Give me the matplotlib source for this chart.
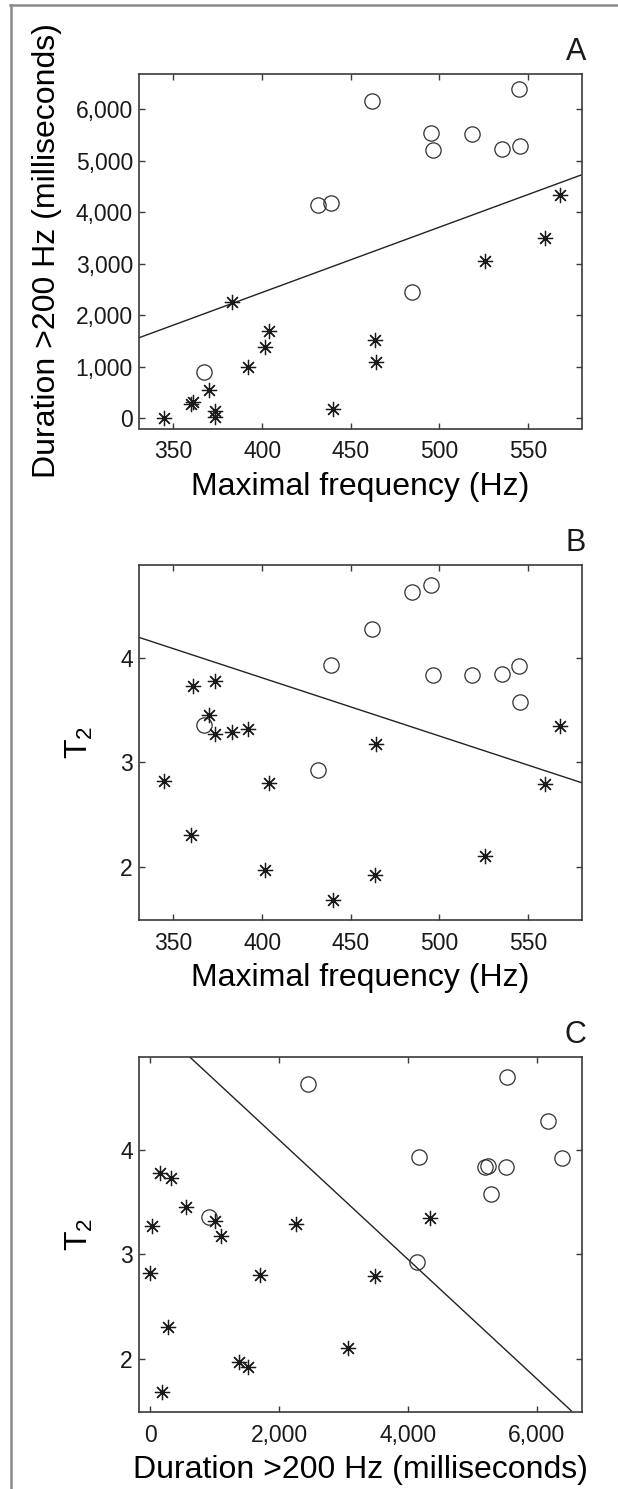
import matplotlib
matplotlib.use("Agg")
import matplotlib.pyplot as plt
from matplotlib.lines import Line2D
from matplotlib.ticker import FuncFormatter

plt.rcParams['font.family'] = ['Liberation Sans', 'DejaVu Sans']
plt.rcParams['mathtext.fontset'] = 'custom'
plt.rcParams['mathtext.rm'] = 'Liberation Sans'
plt.rcParams['mathtext.it'] = 'Liberation Sans'

# ---- data ----
# group drawn with asterisks
star_freq = [361.1, 373.5, 370.0, 373.3, 383.3, 392.1, 344.7, 359.9, 404.1, 401.9,
             464.0, 463.5, 440.0, 525.6, 559.8, 568.2]
star_dur = [320, 145, 548, 30, 2265, 995, 0, 275, 1700, 1380,
            1100, 1522, 178, 3060, 3492, 4337]
star_t2 = [3.734, 3.775, 3.452, 3.273, 3.29, 3.32, 2.826, 2.305, 2.80, 1.967,
           3.175, 1.923, 1.686, 2.105, 2.79, 3.35]

# group drawn with open circles
circ_freq = [484.4, 495.5, 461.8, 439.1, 496.3, 518.5, 535.4, 544.7, 545.6, 367.3, 431.6]
circ_dur = [2449, 5540, 6169, 4173, 5200, 5527, 5234, 6396, 5288, 907, 4136]
circ_t2 = [4.63, 4.697, 4.278, 3.93, 3.838, 3.838, 3.845, 3.922, 3.574, 3.355, 2.928]

# separating lines (end points)
lineA_x = [330, 580]
lineA_y = [1555, 4725]
lineB_x = [330, 580]
lineB_y = [4.20, 2.806]
lineC_x = [611, 6536]
lineC_y = [4.89, 1.50]

freq_ticks = [350, 400, 450, 500, 550]
dur_ticks = [0, 1000, 2000, 3000, 4000, 5000, 6000]
dur_ticks_c = [0, 2000, 4000, 6000]
t2_ticks = [2, 3, 4]
panel_labels = ['A', 'B', 'C']

W, H = 618, 1489
fig = plt.figure(figsize=(W / 100, H / 100), dpi=100)

ax_left, ax_right = 138.5, 582.0
ax_h = 355.0
tops = [73.5, 565.0, 1057.0]

LABEL_FS = 23
TICK_FS = 16.5
INK = '#1a1a1a'
SPINE = '#3a3a3a'

comma = FuncFormatter(lambda v, p: f"{int(round(v)):,}")

axes = []
for top in tops:
    ax = fig.add_axes([ax_left / W, 1 - (top + ax_h) / H, (ax_right - ax_left) / W, ax_h / H])
    for s in ax.spines.values():
        s.set_color(SPINE)
        s.set_linewidth(1.2)
    ax.tick_params(direction='in', length=4, width=1.0, color=SPINE,
                   top=True, right=True, labelsize=TICK_FS, labelcolor=INK)
    ax.tick_params(axis='x', pad=8.5)
    ax.tick_params(axis='y', pad=4)
    axes.append(ax)

def draw_points(ax, xs_star, ys_star, xs_circ, ys_circ):
    ax.plot(xs_circ, ys_circ, linestyle='none', marker='o', markersize=11,
            markerfacecolor='none', markeredgecolor='#303030', markeredgewidth=0.9)
    ax.plot(xs_star, ys_star, linestyle='none', marker=(8, 2, 0), markersize=11,
            markeredgecolor='#1a1a1a', markeredgewidth=0.9)

# Panel A
ax = axes[0]
ax.plot(lineA_x, lineA_y, color='#222222', lw=1.0)
draw_points(ax, star_freq, star_dur, circ_freq, circ_dur)
ax.set_xlim(330.3, 580.4)
ax.set_ylim(-200, 6695)
ax.set_xticks(freq_ticks)
ax.set_yticks(dur_ticks)
ax.yaxis.set_major_formatter(comma)
ax.set_xlabel('Maximal frequency (Hz)', fontsize=LABEL_FS)
ax.set_ylabel('Duration >200 Hz (milliseconds)', fontsize=LABEL_FS)

# Panel B
ax = axes[1]
ax.plot(lineB_x, lineB_y, color='#222222', lw=1.0)
draw_points(ax, star_freq, star_t2, circ_freq, circ_t2)
ax.set_xlim(330.3, 580.4)
ax.set_ylim(1.49, 4.89)
ax.set_xticks(freq_ticks)
ax.set_yticks(t2_ticks)
ax.set_xlabel('Maximal frequency (Hz)', fontsize=LABEL_FS)
ax.set_ylabel(r'T$_2$', fontsize=LABEL_FS)

# Panel C
ax = axes[2]
ax.plot(lineC_x, lineC_y, color='#222222', lw=1.0)
draw_points(ax, star_dur, star_t2, circ_dur, circ_t2)
ax.set_xlim(-185, 6700)
ax.set_ylim(1.49, 4.89)
ax.set_xticks(dur_ticks_c)
ax.xaxis.set_major_formatter(comma)
ax.set_yticks(t2_ticks)
ax.set_xlabel('Duration >200 Hz (milliseconds)', fontsize=LABEL_FS)
ax.set_ylabel(r'T$_2$', fontsize=LABEL_FS)

aw = ax_right - ax_left
for i, ax in enumerate(axes):
    ax.xaxis.label.set_va('baseline')
    ax.xaxis.set_label_coords(0.5, -66 / ax_h)
    ax.yaxis.label.set_va('center')
    ylab_x = 47 if i == 0 else 79
    ax.yaxis.set_label_coords((ylab_x - ax_left) / aw, 0.5)
    ax.text((586 - ax_left) / aw, 1 + 14 / ax_h, panel_labels[i], transform=ax.transAxes,
            ha='right', va='baseline', fontsize=22, color=INK)

# outer grey frame (top and left edges)
fig.add_artist(Line2D([10 / W, 1.0], [1 - 5 / H, 1 - 5 / H], transform=fig.transFigure,
                      color='#8a8a8a', lw=1.8))
fig.add_artist(Line2D([11 / W, 11 / W], [0.0, 1 - 5 / H], transform=fig.transFigure,
                      color='#8a8a8a', lw=1.8))

fig.savefig('out.png', dpi=100)
